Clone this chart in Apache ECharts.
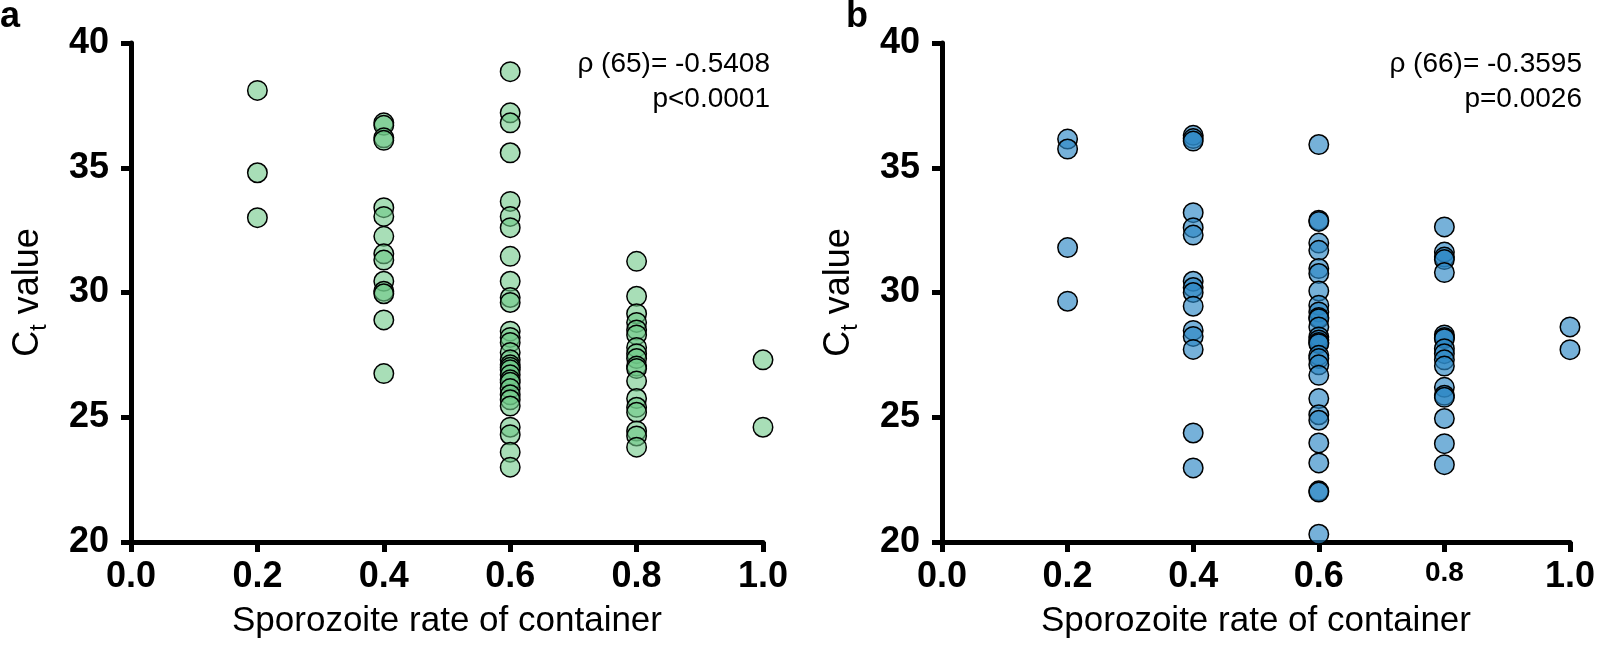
<!DOCTYPE html>
<html>
<head>
<meta charset="utf-8">
<script src="https://cdn.jsdelivr.net/npm/echarts@6/dist/echarts.min.js"></script>
<style>
html,body{margin:0;padding:0;background:#fff;}
#chart{width:1598px;height:647px;}
</style>
</head>
<body>
<div id="chart"></div>
<script>
// ---- data (Ct values per sporozoite rate) ----
const xTickLabels = ['0.0', '0.2', '0.4', '0.6', '0.8', '1.0'];
const yTickLabels = ['20', '25', '30', '35', '40'];

// panel a
const aCt02 = [38.1, 34.8, 33.0];
const aCt04 = [36.8, 36.7, 36.2, 36.1, 33.4, 33.05, 32.25, 31.55, 31.3, 30.45, 30.05, 29.95, 28.9, 26.75];
const aCt06 = [38.85, 37.2, 36.8, 35.6, 33.65, 33.05, 32.6, 31.45, 30.45, 29.8, 29.6, 28.45, 28.2, 28.0, 27.6, 27.3, 27.1, 27.0, 26.9, 26.7, 26.5, 26.4, 26.15, 25.9, 25.7, 25.45, 24.6, 24.3, 23.6, 23.0];
const aCt08 = [31.25, 29.85, 29.15, 28.8, 28.5, 28.3, 27.8, 27.55, 27.35, 27.05, 26.95, 26.45, 25.75, 25.4, 25.2, 24.45, 24.25, 23.8];
const aCt10 = [27.3, 24.6];

// panel b
const bCt02 = [36.15, 35.75, 31.8, 29.65];
const bCt04 = [36.3, 36.17, 36.07, 33.2, 32.6, 32.3, 30.45, 30.2, 30.0, 29.45, 28.48, 28.24, 27.72, 24.37, 22.97];
const bCt06 = [35.93, 32.9, 32.85, 31.98, 31.69, 30.96, 30.76, 30.06, 29.49, 29.22, 29.0, 28.95, 28.62, 28.22, 28.1, 28.0, 27.95, 27.48, 27.35, 27.1, 26.68, 25.75, 25.1, 24.88, 23.97, 23.17, 22.05, 22.0, 20.31];
const bCt08 = [32.63, 31.62, 31.42, 31.32, 30.8, 28.3, 28.2, 28.15, 27.75, 27.55, 27.3, 27.05, 26.2, 25.88, 25.8, 24.95, 23.94, 23.1];
const bCt10 = [28.62, 27.71];

const rates = [0.2, 0.4, 0.6, 0.8, 1.0];
const aStats = ['ρ (65)= -0.5408', 'p<0.0001'];
const bStats = ['ρ (66)= -0.3595', 'p=0.0026'];

function build(cols) {
  const out = [];
  cols.forEach((arr, i) => arr.forEach(v => out.push([rates[i], v])));
  return out;
}
const aData = build([aCt02, aCt04, aCt06, aCt08, aCt10]);
const bData = build([bCt02, bCt04, bCt06, bCt08, bCt10]);

const FONT = "'Liberation Sans', Arial, Helvetica, sans-serif";
const AXW = 5;

function xAxisDef(gridIndex, smallEight) {
  return {
    type: 'value', gridIndex, min: 0, max: 1, interval: 0.2,
    splitLine: {show: false},
    axisLine: {show: true, onZero: false, lineStyle: {color: '#000', width: AXW}},
    axisTick: {show: true, length: 10, lineStyle: {color: '#000', width: AXW}},
    axisLabel: {
      margin: 17, color: '#000', fontFamily: FONT, fontWeight: 'bold', fontSize: 36,
      formatter: function (v) {
        const lab = xTickLabels[Math.round(v / 0.2)];
        if (smallEight && lab === '0.8') return '{s|' + lab + '}';
        return lab;
      },
      rich: {s: {fontFamily: FONT, fontWeight: 'bold', fontSize: 28, color: '#000'}}
    },
    name: 'Sporozoite rate of container',
    nameLocation: 'middle', nameGap: 62,
    nameTextStyle: {color: '#000', fontFamily: FONT, fontSize: 35}
  };
}
function yAxisDef(gridIndex) {
  return {
    type: 'value', gridIndex, min: 20, max: 40, interval: 5,
    splitLine: {show: false},
    axisLine: {show: true, onZero: false, lineStyle: {color: '#000', width: AXW}},
    axisTick: {show: true, length: 10, lineStyle: {color: '#000', width: AXW}},
    axisLabel: {
      margin: 22, color: '#000', fontFamily: FONT, fontWeight: 'bold', fontSize: 36,
      formatter: function (v) { return yTickLabels[Math.round((v - 20) / 5)]; }
    },
    name: '{m|C}{s|t}{m| value}',
    nameLocation: 'middle', nameGap: 80, nameRotate: 90,
    nameTextStyle: {
      color: '#000',
      rich: {
        m: {fontFamily: FONT, fontSize: 36, lineHeight: 46, color: '#000'},
        s: {fontFamily: FONT, fontSize: 23, lineHeight: 23, verticalAlign: 'bottom', color: '#000'}
      }
    }
  };
}
function scatter(idx, data, fill) {
  return {
    type: 'scatter', xAxisIndex: idx, yAxisIndex: idx, data,
    symbol: 'circle', symbolSize: 19.5,
    itemStyle: {color: fill, borderColor: '#000', borderWidth: 1.5, opacity: 1},
    emphasis: {disabled: true}, silent: true
  };
}
function statText(x, y, txt) {
  return {type: 'text', x, y, style: {text: txt, font: "28px " + FONT, fill: '#000', align: 'right', verticalAlign: 'middle'}};
}

const chart = echarts.init(document.getElementById('chart'), null, {renderer: 'canvas'});
chart.setOption({
  animation: false,
  backgroundColor: '#fff',
  grid: [
    {left: 131, top: 43, width: 632, height: 499},
    {left: 942, top: 43, width: 633, height: 499}
  ],
  xAxis: [xAxisDef(0, false), xAxisDef(1, true)],
  yAxis: [yAxisDef(0), yAxisDef(1)],
  series: [
    scatter(0, aData, 'rgba(110,200,135,0.6)'),
    scatter(1, bData, 'rgba(45,135,196,0.65)')
  ],
  graphic: [
    {type: 'text', x: 0, y: 17, style: {text: 'a', font: "bold 36px " + FONT, fill: '#000', verticalAlign: 'middle'}},
    {type: 'text', x: 846, y: 17, style: {text: 'b', font: "bold 36px " + FONT, fill: '#000', verticalAlign: 'middle'}},
    statText(770, 64, aStats[0]),
    statText(770, 99, aStats[1]),
    statText(1582, 64, bStats[0]),
    statText(1582, 99, bStats[1])
  ]
});
</script>
</body>
</html>
